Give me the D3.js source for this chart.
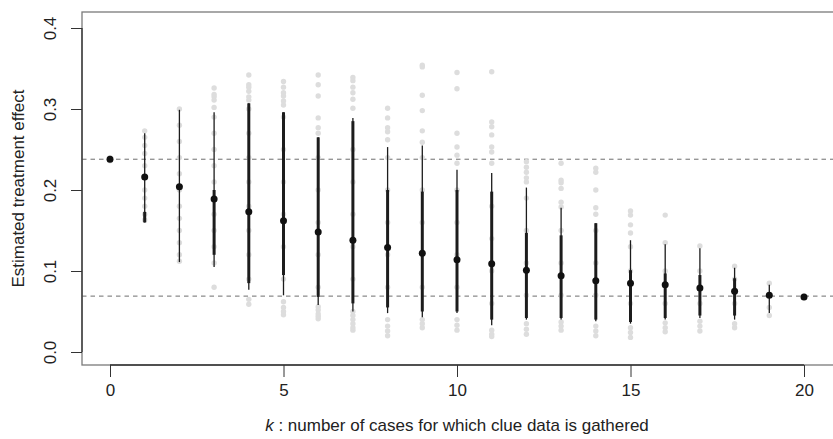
<!DOCTYPE html>
<html>
<head>
<meta charset="utf-8">
<script src="https://cdn.jsdelivr.net/npm/d3@7"></script>
<style>
  html, body { margin: 0; padding: 0; background: #fff; }
  svg { display: block; font-family: "Liberation Sans", Arial, Helvetica, sans-serif; }
</style>
</head>
<body>
<svg id="chart" width="833" height="439"></svg>
<script>
// Number of cases k for which clue data is gathered
const kValues = [0,1,2,3,4,5,6,7,8,9,10,11,12,13,14,15,16,17,18,19,20];

// Mean estimated treatment effect for each k
const meanEstimate = [0.238,0.216,0.204,0.189,0.173,0.162,0.148,0.138,0.129,0.122,0.114,0.109,0.101,0.094,0.088,0.085,0.083,0.079,0.075,0.070,0.068];

// Outer (thin) interval
const thinLow  = [null,0.160,0.111,0.105,0.077,0.070,0.058,0.050,0.048,0.043,0.048,0.033,0.040,0.040,0.038,0.035,0.040,0.042,0.040,0.048,null];
const thinHigh = [null,0.270,0.299,0.296,0.307,0.296,0.265,0.289,0.253,0.255,0.225,0.221,0.203,0.178,0.159,0.138,0.133,0.128,0.104,0.083,null];

// Inner (thick) interval
const thickLow  = [null,0.160,null,0.120,0.085,0.095,0.068,0.060,0.055,0.050,0.050,0.040,0.042,0.042,0.040,0.037,0.042,0.045,0.045,null,null];
const thickHigh = [null,0.173,null,0.200,0.307,0.296,0.265,0.285,0.200,0.198,0.200,0.198,0.147,0.144,0.159,0.101,0.097,0.095,0.091,null,null];

// Individual estimates for each k
const estimates = [
  [0.236,0.238,0.240],
  [0.163,0.170,0.180,0.190,0.200,0.215,0.230,0.245,0.255,0.265,0.273],
  [0.112,0.120,0.135,0.150,0.165,0.180,0.200,0.220,0.240,0.260,0.280,0.300],
  [0.080,0.110,0.130,0.150,0.170,0.190,0.210,0.230,0.250,0.270,0.290,0.302,0.311,0.315,0.318,0.326],
  [0.059,0.065,0.090,0.120,0.150,0.180,0.210,0.240,0.270,0.300,0.311,0.315,0.322,0.327,0.330,0.342],
  [0.046,0.050,0.055,0.062,0.090,0.130,0.170,0.210,0.250,0.290,0.305,0.310,0.316,0.320,0.327,0.334],
  [0.041,0.044,0.047,0.052,0.056,0.080,0.120,0.160,0.200,0.240,0.270,0.277,0.289,0.316,0.330,0.342],
  [0.027,0.030,0.035,0.040,0.045,0.050,0.090,0.130,0.170,0.210,0.250,0.301,0.312,0.320,0.327,0.335,0.339],
  [0.020,0.026,0.032,0.040,0.080,0.120,0.160,0.200,0.240,0.262,0.272,0.277,0.289,0.301],
  [0.030,0.035,0.040,0.080,0.120,0.160,0.200,0.240,0.259,0.273,0.298,0.317,0.352,0.354],
  [0.027,0.033,0.040,0.080,0.120,0.160,0.200,0.233,0.243,0.253,0.270,0.325,0.345],
  [0.019,0.022,0.027,0.060,0.100,0.140,0.180,0.233,0.247,0.253,0.268,0.278,0.284,0.346],
  [0.022,0.028,0.035,0.070,0.110,0.150,0.190,0.210,0.215,0.222,0.228,0.235],
  [0.027,0.032,0.037,0.070,0.110,0.150,0.179,0.185,0.202,0.209,0.212,0.233],
  [0.020,0.026,0.032,0.070,0.110,0.150,0.170,0.178,0.200,0.222,0.227],
  [0.018,0.024,0.030,0.060,0.100,0.130,0.147,0.157,0.169,0.174],
  [0.025,0.030,0.036,0.060,0.100,0.135,0.169],
  [0.026,0.032,0.038,0.060,0.100,0.131],
  [0.030,0.035,0.060,0.090,0.106],
  [0.045,0.055,0.070,0.085],
  [0.067,0.069]
];

// Reference levels drawn as dashed lines
const referenceLevels = [0.238, 0.069];

const xTicks = [0, 5, 10, 15, 20];
const yTicks = [0.0, 0.1, 0.2, 0.3, 0.4];

const xTitle = "number of cases for which clue data is gathered";
const yTitle = "Estimated treatment effect";

const fontSize = 17;
const svg = d3.select("#chart");
const box = { left: 82, right: 834, top: 12, bottom: 365 };

const x = d3.scaleLinear().domain([0, 20]).range([110, 804]);
const y = d3.scaleLinear().domain([0, 0.4]).range([352, 28]);

// Clip marks to the plotting region
svg.append("defs").append("clipPath").attr("id", "plotClip")
  .append("rect")
  .attr("x", box.left).attr("y", box.top)
  .attr("width", box.right - box.left).attr("height", box.bottom - box.top);

const plot = svg.append("g").attr("clip-path", "url(#plotClip)");

// Dashed reference lines
plot.selectAll("line.ref").data(referenceLevels).join("line")
  .attr("class", "ref")
  .attr("x1", box.left).attr("x2", box.right)
  .attr("y1", d => y(d)).attr("y2", d => y(d))
  .attr("stroke", "#6e6e6e").attr("stroke-width", 1)
  .attr("stroke-dasharray", "4.5,4");

// Grey points for every individual estimate
const pts = [];
estimates.forEach((arr, i) => arr.forEach(v => pts.push({ k: kValues[i], v })));
plot.selectAll("circle.est").data(pts).join("circle")
  .attr("class", "est")
  .attr("cx", d => x(d.k)).attr("cy", d => y(d.v))
  .attr("r", 2.7).attr("fill", "#dddddd");

const rows = kValues.map((k, i) => ({
  k, mean: meanEstimate[i],
  tl: thinLow[i], th: thinHigh[i], kl: thickLow[i], kh: thickHigh[i]
}));

// Thin interval lines
plot.selectAll("line.thin").data(rows.filter(d => d.tl !== null)).join("line")
  .attr("class", "thin")
  .attr("x1", d => x(d.k)).attr("x2", d => x(d.k))
  .attr("y1", d => y(d.tl)).attr("y2", d => y(d.th))
  .attr("stroke", "#1c1c1c").attr("stroke-width", 1.3);

// Thick interval lines
plot.selectAll("line.thick").data(rows.filter(d => d.kl !== null)).join("line")
  .attr("class", "thick")
  .attr("x1", d => x(d.k)).attr("x2", d => x(d.k))
  .attr("y1", d => y(d.kl)).attr("y2", d => y(d.kh))
  .attr("stroke", "#1c1c1c").attr("stroke-width", 3);

// Mean estimates
plot.selectAll("circle.mean").data(rows).join("circle")
  .attr("class", "mean")
  .attr("cx", d => x(d.k)).attr("cy", d => y(d.mean))
  .attr("r", 3.5).attr("fill", "#111");

// Frame
svg.append("rect")
  .attr("x", box.left).attr("y", box.top)
  .attr("width", box.right - box.left).attr("height", box.bottom - box.top)
  .attr("fill", "none").attr("stroke", "#7a7a7a").attr("stroke-width", 1.3);

// Axes
const xAxis = d3.axisBottom(x).tickValues(xTicks).tickSize(12).tickPadding(7)
  .tickFormat(d3.format("d"));
const gx = svg.append("g").attr("transform", `translate(0,${box.bottom})`).call(xAxis);
gx.select(".domain").attr("d", `M${x(0)},0H${x(20)}`).attr("stroke", "#333").attr("stroke-width", 1.3);
gx.selectAll(".tick line").attr("stroke", "#333");
gx.selectAll(".tick text").attr("font-size", fontSize).attr("fill", "#222")
  .attr("font-family", "Liberation Sans, Arial, sans-serif");

const yAxis = d3.axisLeft(y).tickValues(yTicks).tickSize(11).tickFormat(d3.format(".1f"));
const gy = svg.append("g").attr("transform", `translate(${box.left},0)`).call(yAxis);
gy.select(".domain").attr("d", `M0,${y(0)}V${y(0.4)}`).attr("stroke", "#333").attr("stroke-width", 1.3);
gy.selectAll(".tick line").attr("stroke", "#333");
gy.selectAll(".tick text")
  .attr("font-size", fontSize).attr("fill", "#222")
  .attr("font-family", "Liberation Sans, Arial, sans-serif")
  .attr("x", null)
  .attr("text-anchor", "middle")
  .attr("transform", "translate(-32,0) rotate(-90)")
  .attr("dy", "0.35em");

// Axis titles
const xt = svg.append("text")
  .attr("x", (x(0) + x(20)) / 2).attr("y", 431)
  .attr("text-anchor", "middle").attr("font-size", fontSize).attr("fill", "#222");
xt.append("tspan").attr("font-style", "italic").text("k");
xt.append("tspan").text(" : " + xTitle);

svg.append("text")
  .attr("transform", `translate(24,${(box.top + box.bottom) / 2}) rotate(-90)`)
  .attr("text-anchor", "middle").attr("font-size", fontSize).attr("fill", "#222")
  .text(yTitle);
</script>
</body>
</html>
